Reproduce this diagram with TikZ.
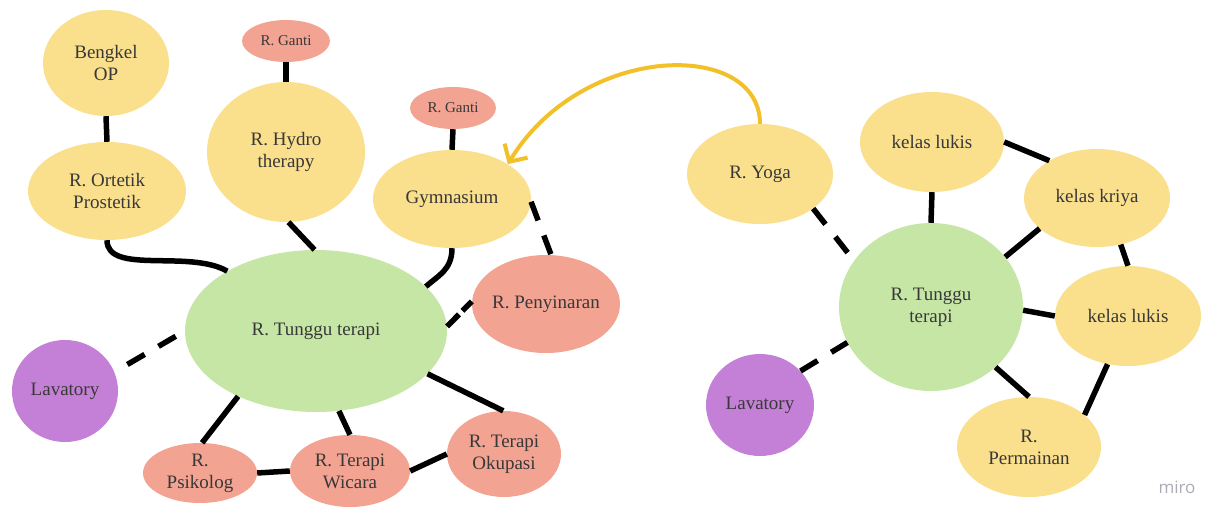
\documentclass[tikz,border=0pt]{standalone}
\usepackage{fontspec}
\setmainfont{Liberation Serif}
\newfontfamily\logofont{Open Sans}
\usetikzlibrary{shapes.geometric,arrows.meta}

\definecolor{ylw}{HTML}{FADF8C}
\definecolor{grn}{HTML}{C6E6A6}
\definecolor{slm}{HTML}{F3A392}
\definecolor{prp}{HTML}{C480D6}
\definecolor{txt}{HTML}{383838}
\definecolor{gold}{HTML}{F2C029}
\definecolor{logo}{HTML}{ABABB5}

\tikzset{
  room/.style={ellipse, inner sep=0pt, text=txt, align=center,
               font=\fontsize{19}{22}\selectfont},
  yroom/.style={room, fill=ylw},
  groom/.style={room, fill=grn},
  sroom/.style={room, fill=slm},
  proom/.style={room, fill=prp},
  small/.style={font=\fontsize{15}{18}\selectfont},
  link/.style={draw=black, line width=5.5pt},
  dlink/.style={link, dash pattern=on 20pt off 16pt},
  flow/.style={draw=gold, line width=4pt,
               -{Straight Barb[length=13pt,width=27pt]}},
}

\begin{document}
\begin{tikzpicture}[x=1pt,y=-1pt]
\useasboundingbox (0,0) rectangle (1213,508);

% ---------- left cluster ----------
\node[yroom, minimum width=126pt, minimum height=106pt] (bengkel) at (106,63) {Bengkel\\OP};
\node[yroom, minimum width=158pt, minimum height=98pt] (ortetik) at (107,191) {R. Ortetik\\Prostetik};
\node[sroom, small, minimum width=88pt, minimum height=42pt] (gantiA) at (286,41) {R. Ganti};
\node[yroom, minimum width=158pt, minimum height=140pt] (hydro) at (286,152) {R. Hydro\\therapy};
\node[sroom, small, minimum width=86pt, minimum height=42pt] (gantiB) at (453,108) {R. Ganti};
\node[yroom, minimum width=158pt, minimum height=98pt] (gym) at (452,199) {Gymnasium};
\node[groom, minimum width=262pt, minimum height=162pt] (tungguA) at (316,331) {R. Tunggu terapi};
\node[sroom, inner xsep=-4pt, minimum width=148pt, minimum height=98pt] (peny) at (546,304) {R. Penyinaran};
\node[proom, minimum width=106pt, minimum height=102pt] (lavA) at (65,391) {Lavatory};
\node[sroom, minimum width=114pt, minimum height=60pt] (psik) at (200,473) {R.\\Psikolog};
\node[sroom, minimum width=120pt, minimum height=72pt] (wicara) at (350,471) {R. Terapi\\Wicara};
\node[sroom, minimum width=114pt, minimum height=86pt] (okup) at (504,454) {R. Terapi\\Okupasi};

\draw[link] (bengkel.south) -- (ortetik.north);
\draw[link] (gantiA.south) -- (hydro.north);
\draw[link] (gantiB.south) -- (gym.north);
\draw[link] (ortetik.south) .. controls +(0,35) and +(-38,-22) .. (tungguA.146);
\draw[link] (hydro.-88) -- (tungguA.91);
\draw[link] (gym.south) .. controls +(0,22) and +(12,-11) .. (tungguA.22);
\draw[dlink] (gym.-2) -- (peny.84);
\draw[link, dash pattern=on 17pt off 5pt] (tungguA.2) -- (peny.178);
\draw[dlink, dash phase=21pt] (lavA.21) -- (tungguA.180);
\draw[link] (tungguA.-140) -- (psik.86);
\draw[link] (tungguA.-74) -- (wicara.90);
\draw[link] (tungguA.-21) -- (okup.91);
\draw[link] (psik.east) -- (wicara.west);
\draw[link] (wicara.east) -- (okup.west);

% ---------- right cluster ----------
\node[yroom, minimum width=146pt, minimum height=100pt] (yoga) at (760,174) {R. Yoga};
\node[yroom, minimum width=144pt, minimum height=100pt] (lukisA) at (932,142) {kelas lukis};
\node[yroom, minimum width=146pt, minimum height=98pt] (kriya) at (1097,198) {kelas kriya};
\node[groom, minimum width=184pt, minimum height=168pt] (tungguB) at (931,307) {R. Tunggu\\terapi};
\node[yroom, minimum width=146pt, minimum height=100pt] (lukisB) at (1128,316) {kelas lukis};
\node[proom, minimum width=108pt, minimum height=102pt] (lavB) at (760,405) {Lavatory};
\node[yroom, minimum width=144pt, minimum height=100pt] (main) at (1029,447) {R.\\Permainan};

\draw[dlink] (yoga.-33) -- (tungguB.149);
\draw[dlink] (lavB.40) -- (tungguB.-157);
\draw[link] (lukisA.south) -- (tungguB.north);
\draw[link] (lukisA.0) -- (kriya.142);
\draw[link] (tungguB.34) -- (kriya.-152);
\draw[link] (kriya.-63) -- (lukisB.90);
\draw[link] (tungguB.-2) -- (lukisB.180);
\draw[link] (tungguB.-43) -- (main.90);
\draw[link] (lukisB.-113) -- (main.30);

% ---------- cross link ----------
\draw[flow] (yoga.north) .. controls +(0,-84) and +(75,-123) .. (gym.32);

\node[text=logo, font=\logofont\fontsize{17}{20}\selectfont] (brand) at (1177,487) {miro};
\end{tikzpicture}
\end{document}
